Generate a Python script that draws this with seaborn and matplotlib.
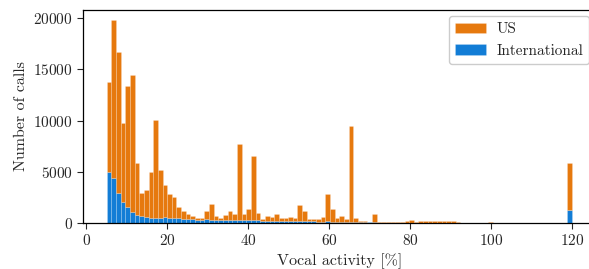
import numpy as np
import pandas as pd
import matplotlib
matplotlib.use("Agg")
import matplotlib.pyplot as plt
import seaborn as sns

# Histogram counts per bin (100 bins spanning 5..120 % vocal activity)
us_counts = [
    8800, 15400, 13840, 7800, 11900, 13420, 5010, 2200, 2600, 4500,
    9620, 4700, 3100, 2300, 2050, 1080, 750, 490, 380, 160,
    200, 830, 1540, 420, 230, 530, 890, 650, 7430, 630,
    1040, 6250, 730, 200, 420, 380, 690, 320, 300, 410,
    320, 1550, 960, 200, 240, 290, 500, 2710, 1250, 340,
    540, 260, 9400, 410, 150, 110, 60, 780, 60, 80,
    80, 80, 80, 80, 100, 200, 80, 160, 180, 130,
    130, 140, 130, 130, 100, 40, 20, 0, 0, 0,
    0, 0, 50, 0, 0, 0, 0, 0, 0, 0,
    0, 0, 0, 0, 0, 0, 0, 0, 0, 4630,
]
intl_counts = [
    5000, 4400, 2860, 2000, 1500, 1080, 790, 700, 600, 500,
    480, 500, 550, 500, 450, 420, 400, 360, 320, 300,
    300, 320, 300, 280, 270, 270, 260, 250, 270, 270,
    260, 250, 220, 200, 200, 190, 190, 180, 170, 160,
    150, 150, 140, 130, 120, 110, 100, 120, 100, 90,
    80, 70, 100, 60, 50, 50, 40, 40, 20, 20,
    20, 20, 20, 20, 20, 20, 20, 20, 20, 20,
    20, 20, 20, 20, 20, 20, 0, 0, 0, 0,
    0, 0, 0, 0, 0, 0, 0, 0, 0, 0,
    0, 0, 0, 0, 0, 0, 0, 0, 0, 1220,
]
regions = ["US", "International"]
x_ticks = [0, 20, 40, 60, 80, 100, 120]
y_ticks = [0, 5000, 10000, 15000, 20000]
x_label = "Vocal activity [%]"
y_label = "Number of calls"

bin_lo, bin_hi, n_bins = 5, 120, 100
edges = np.linspace(bin_lo, bin_hi, n_bins + 1)
centers = (edges[:-1] + edges[1:]) / 2

df = pd.concat([
    pd.DataFrame({"activity": centers, "calls": us_counts, "region": "US"}),
    pd.DataFrame({"activity": centers, "calls": intl_counts, "region": "International"}),
], ignore_index=True)

sns.set_style("ticks")
plt.rcParams["font.family"] = "serif"
plt.rcParams["font.serif"] = ["cmr10", "DejaVu Serif"]
plt.rcParams["mathtext.fontset"] = "cm"
plt.rcParams["axes.formatter.use_mathtext"] = True
plt.rcParams["axes.unicode_minus"] = False

fig = plt.figure(figsize=(5.89, 2.69), dpi=100)
# axes extends slightly past the right edge of the figure (cropped like the reference)
ax = fig.add_axes([0.1416, 0.1721, 1.0107 - 0.1416, 0.7896])

palette = {"US": "#e6790e", "International": "#127dd6"}
sns.histplot(
    data=df, x="activity", weights="calls", hue="region",
    hue_order=regions, bins=n_bins, binrange=(bin_lo, bin_hi),
    multiple="stack",
    palette=palette, alpha=1, edgecolor=(1, 1, 1, 0.25), linewidth=0.5,
    ax=ax,
)

ax.set_xlim(-0.75, 125.75)
ax.set_ylim(0, 20790)
ax.set_xticks(x_ticks)
ax.set_yticks(y_ticks)
ax.set_xlabel(x_label, fontsize=11.5)
ax.set_ylabel(y_label, fontsize=11.5)
ax.tick_params(labelsize=11, length=4, width=0.8, direction="out")
for s in ax.spines.values():
    s.set_visible(True)
    s.set_linewidth(0.9)
    s.set_color("black")

leg = ax.get_legend()
handles = leg.legend_handles
labels = [t.get_text() for t in leg.get_texts()]
leg.remove()
ax.legend(handles, labels, loc="upper right", fontsize=11, frameon=True,
          fancybox=True, edgecolor="#cccccc", framealpha=1,
          handlelength=2.0, handleheight=0.7, handletextpad=0.7,
          borderaxespad=0.4)

fig.savefig("out.png", dpi=100)
